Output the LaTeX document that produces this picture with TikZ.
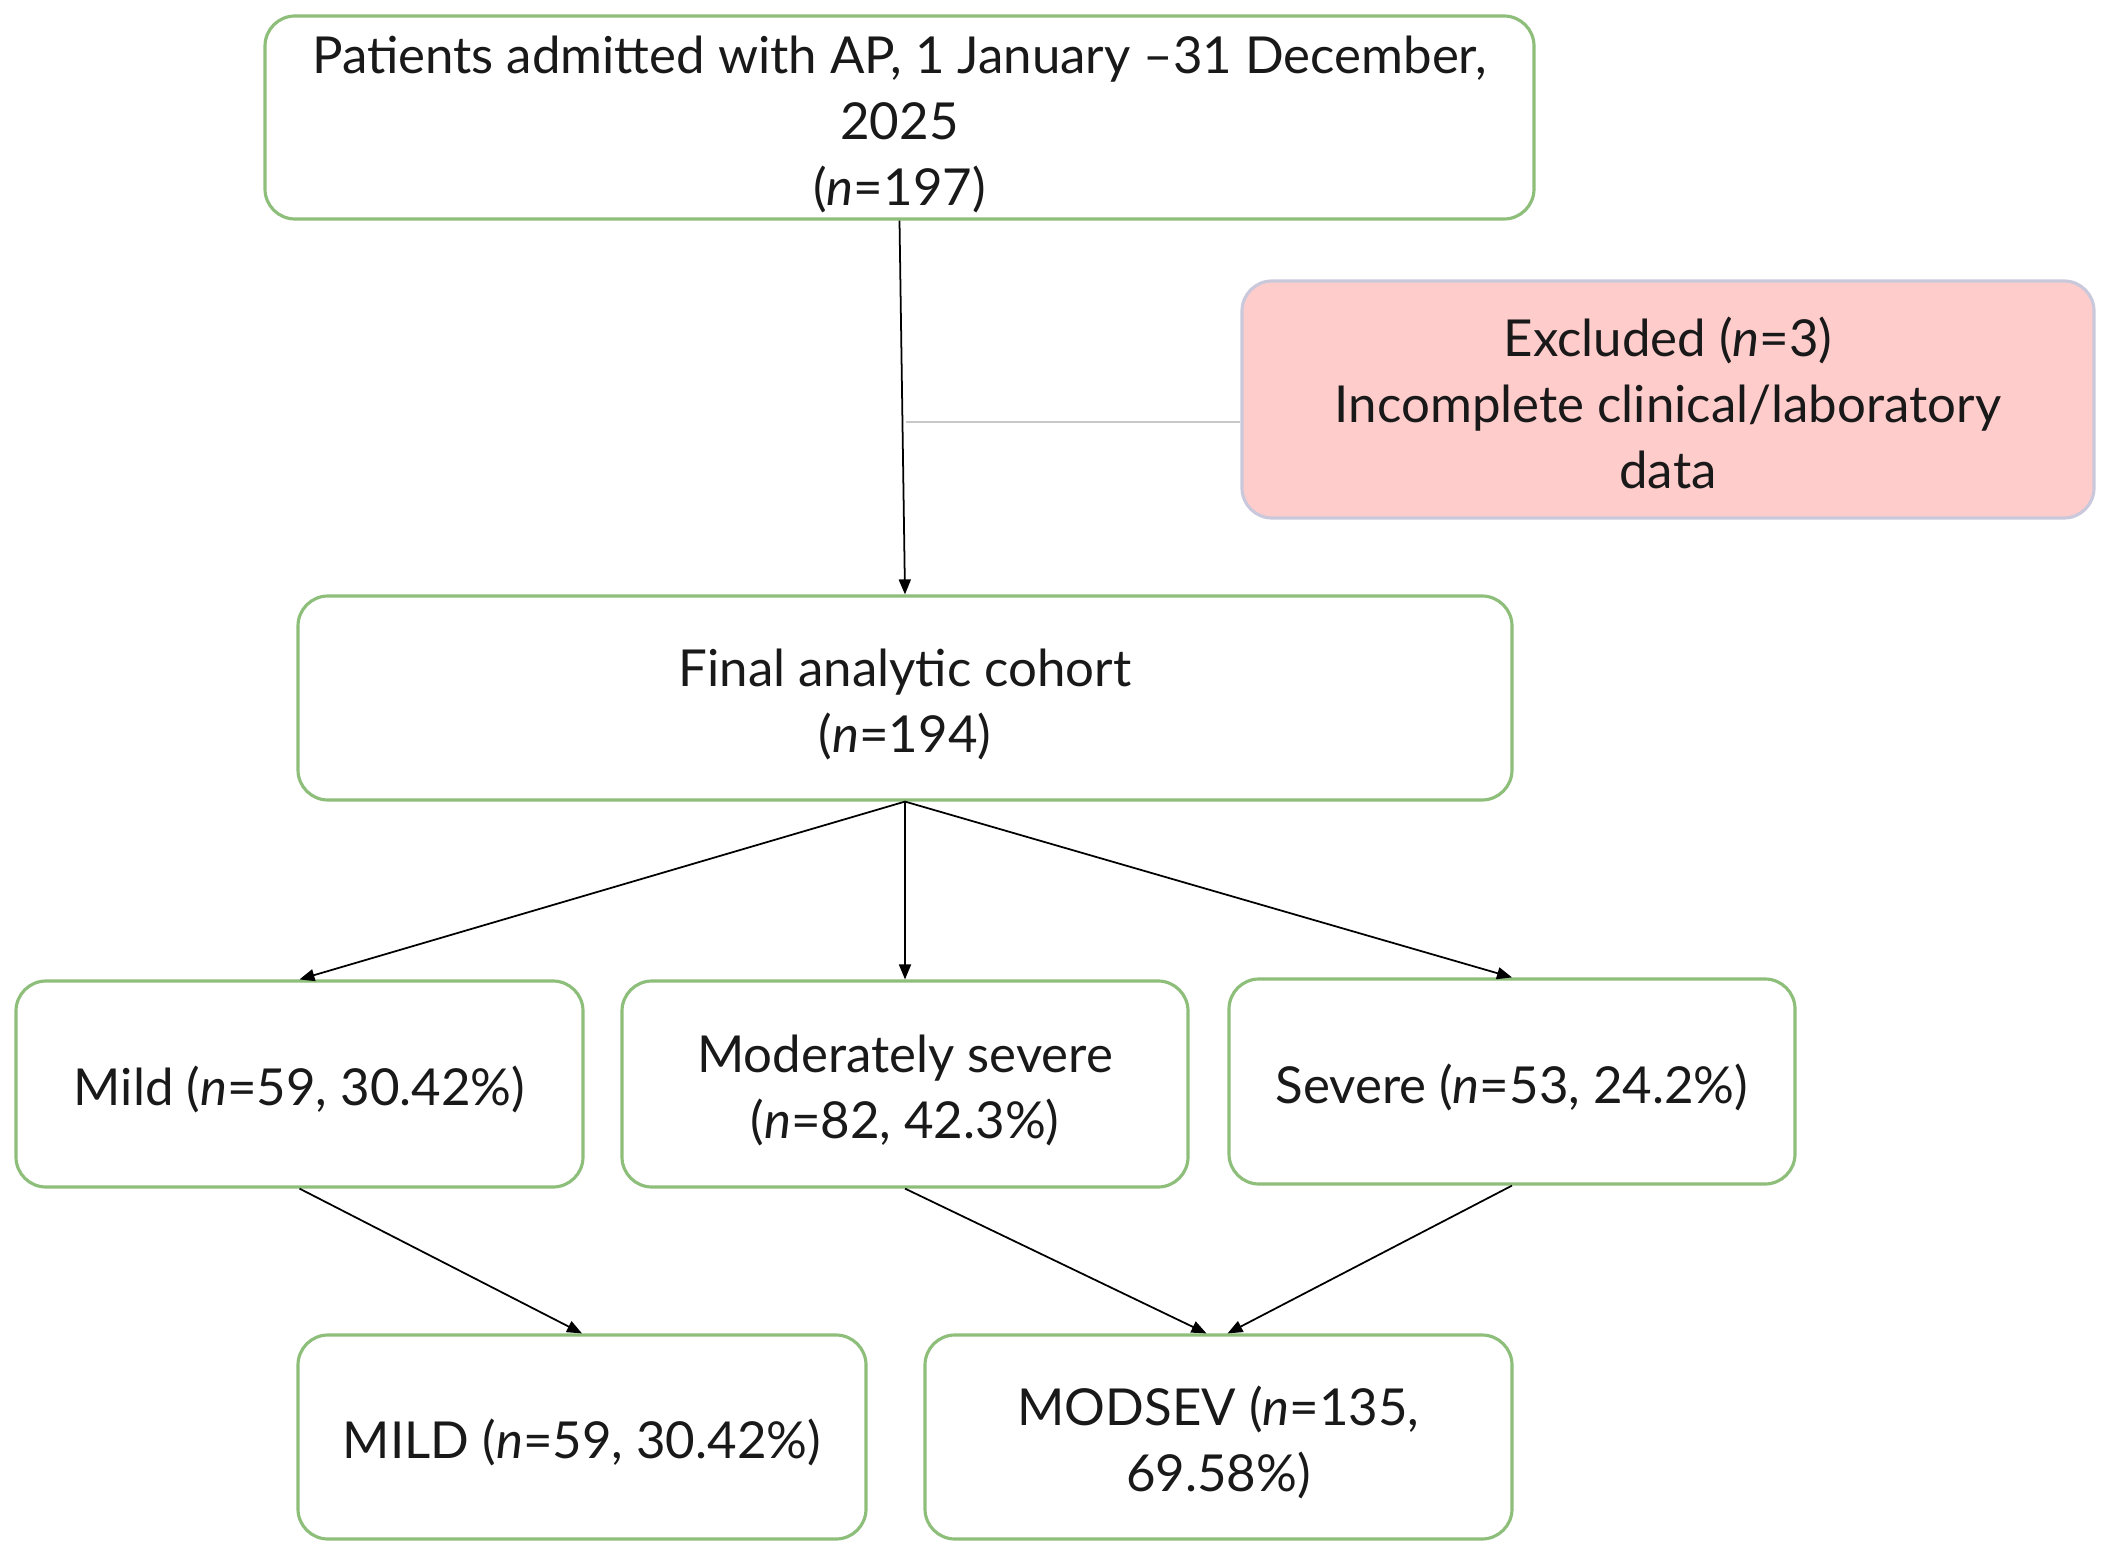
\documentclass[tikz,border=0pt]{standalone}
\usepackage{fontspec}
\setmainfont{Lato}
\usetikzlibrary{arrows.meta,calc}
\definecolor{boxgreen}{HTML}{8DBF7A}
\definecolor{exfill}{HTML}{FFCCCC}
\definecolor{exdraw}{HTML}{C9C9DB}
\definecolor{sepgray}{HTML}{C8C8C8}
\begin{document}
\begin{tikzpicture}[x=0.1mm,y=-0.1mm,
  box/.style={draw=boxgreen, line width=0.9pt, rounded corners=3mm, inner sep=0pt, align=center,
    font=\fontsize{14.5}{18.8}\selectfont, text=black!90},
  oneline/.style={text height=14.5pt},
  twolines/.style={text height=33.3pt},
  threelines/.style={text height=52.1pt},
  exbox/.style={box, draw=exdraw, fill=exfill},
  conn/.style={line width=0.5pt, -{Triangle[length=1.5mm,width=1.2mm]}}]
\useasboundingbox (0,0) rectangle (2108,1555);
\node[box, threelines, minimum width=126.9mm, minimum height=20.3mm] (top) at (899.5,117.5)
  {Patients admitted with AP, 1 January --31 December,\\2025\\(\textit{n}=197)};
\node[exbox, text height=51pt, minimum width=85.2mm, minimum height=23.7mm] (excl) at (1668,399.5)
  {Excluded (\textit{n}=3)\\Incomplete clinical/laboratory\\data};
\node[box, twolines, minimum width=121.4mm, minimum height=20.4mm] (final) at (905,698)
  {Final analytic cohort\\(\textit{n}=194)};
\node[box, oneline, minimum width=56.7mm, minimum height=20.6mm] (mild) at (299.5,1084)
  {Mild (\textit{n}=59, 30.42\%)};
\node[box, twolines, minimum width=56.6mm, minimum height=20.6mm] (mods) at (905,1084)
  {Moderately severe\\(\textit{n}=82, 42.3\%)};
\node[box, oneline, minimum width=56.6mm, minimum height=20.5mm] (sev) at (1512,1081.5)
  {Severe (\textit{n}=53, 24.2\%)};
\node[box, oneline, minimum width=56.8mm, minimum height=20.4mm] (mildg) at (582,1437)
  {MILD (\textit{n}=59, 30.42\%)};
\node[box, twolines, minimum width=58.7mm, minimum height=20.4mm] (modsev) at (1218.5,1437)
  {MODSEV (\textit{n}=135,\\69.58\%)};
\draw[conn] (top.south) -- (final.north);
\coordinate (j) at (906,422);
\draw[sepgray, line width=0.6pt] (j) -- (excl.west |- j);
\draw[conn] (final.south) -- (mild.north);
\draw[conn] (final.south) -- (mods.north);
\draw[conn] (final.south) -- (sev.north);
\draw[conn] (mild.south) -- (mildg.north);
\draw[conn] (mods.south) -- ($(modsev.north)+(-12,0)$);
\draw[conn] (sev.south) -- ($(modsev.north)+(9,0)$);
\end{tikzpicture}
\end{document}
